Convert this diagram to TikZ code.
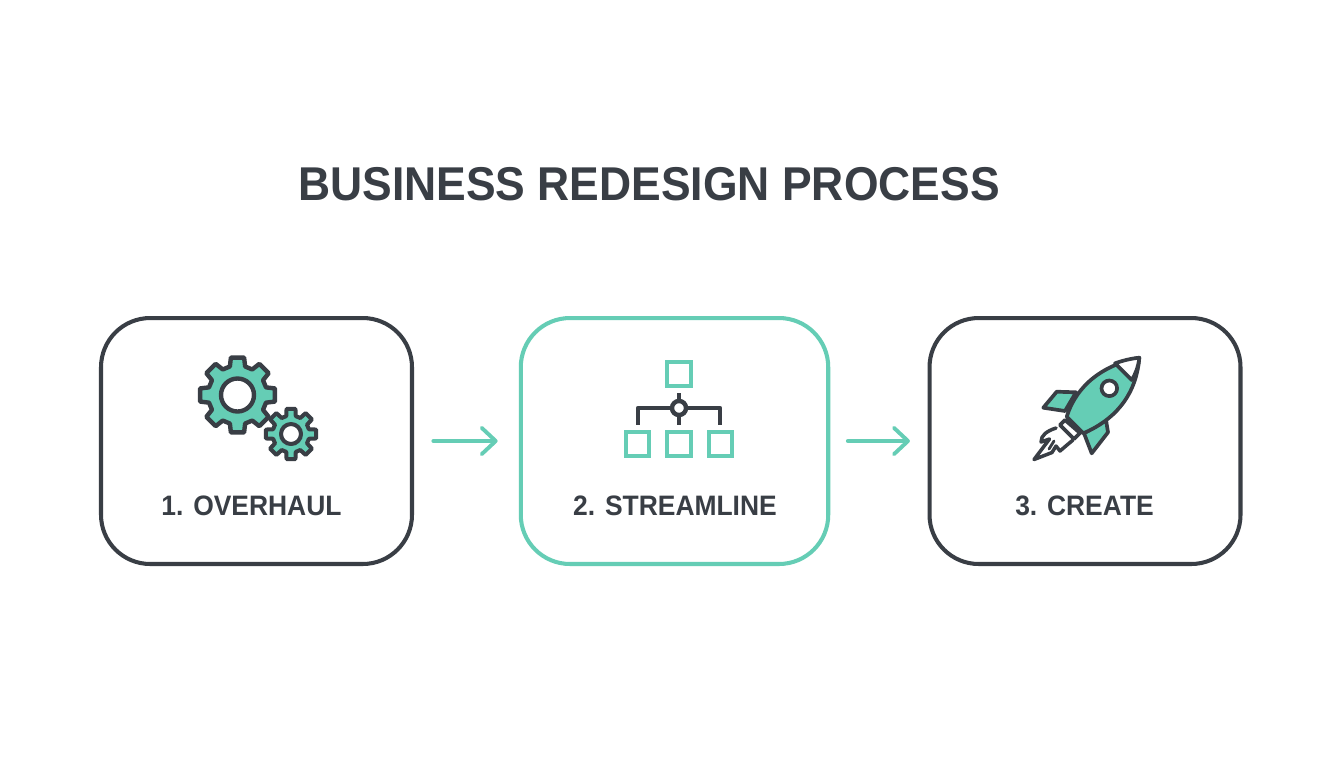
\documentclass[tikz,border=0pt]{standalone}
\usepackage{fontspec}
\setmainfont{Liberation Sans}
\newfontfamily\headfont[FakeStretch=0.937]{Liberation Sans}
\newfontfamily\labelfont[FakeStretch=0.94]{Liberation Sans}
\usetikzlibrary{arrows.meta}

\definecolor{slate}{HTML}{393E45}
\definecolor{mint}{HTML}{65CDB5}

\tikzset{
  stepbox/.style={draw=slate, line width=2.3pt, rounded corners=28pt, minimum width=177pt, minimum height=140pt, inner sep=0pt},
  steplabel/.style={text=slate, font=\labelfont\fontsize{16pt}{18pt}\selectfont\bfseries, inner sep=0pt},
  flow/.style={draw=mint, line width=2.2pt, line cap=round, -{Straight Barb[round, length=8pt, width=15pt, line width=2.2pt]}},
  iconline/.style={draw=slate, line width=2.1pt, line join=round, line cap=round},
  chartline/.style={draw=slate, line width=2.5pt, line join=round},
  iconbox/.style={draw=mint, line width=2.2pt, fill=white, minimum size=13.5pt, inner sep=0pt},
}

% one gear: centre, root radius, tip radius, hole radius, stroke
\newcommand{\gearicon}[5]{
  \begin{scope}[shift={(#1)}]
    \filldraw[iconline, line width=#5, fill=mint] (-10:#3)
      \foreach \a in {0,45,...,315} {
        -- (\a-10:#3) -- (\a+10:#3) -- (\a+15:#2) -- (\a+30:#2)
      } -- cycle;
    \filldraw[iconline, line width=#5, fill=white] (0,0) circle (#4);
  \end{scope}
}

\begin{document}
\begin{tikzpicture}[x=0.02cm, y=-0.02cm]

  \useasboundingbox[fill=white] (0,0) rectangle (1344,768);

  \node[text=slate, font=\headfont\fontsize{27pt}{30pt}\selectfont\bfseries, inner sep=0pt] (title) at (649,184) {BUSINESS REDESIGN PROCESS};

  \node[stepbox] (overhaul) at (256.5,441) {};
  \node[stepbox, draw=mint, minimum width=175pt] (streamline) at (674.5,441) {};
  \node[stepbox] (create) at (1085,441) {};

  \node[steplabel] (overhaullabel) at (251.5,506) {1. OVERHAUL};
  \node[steplabel] (streamlinelabel) at (675,506) {2. STREAMLINE};
  \node[steplabel] (createlabel) at (1084.5,506) {3. CREATE};

  \draw[flow, shorten <=11pt, shorten >=12pt] (overhaul.east) -- (streamline.west);
  \draw[flow, shorten <=10pt, shorten >=10pt] (streamline.east) -- (create.west);

  % gears
  \gearicon{237.5,395}{29.5}{38}{16.5}{2.5pt}
  \gearicon{291,434}{18.5}{25.5}{10}{2.3pt}

  % chart
  \node[iconbox] (top) at (679,374) {};
  \node[iconbox] (left) at (637.5,444) {};
  \node[iconbox] (mid) at (679,444) {};
  \node[iconbox] (right) at (720.5,444) {};
  \node[circle, draw=slate, line width=2.5pt, fill=white, minimum size=8pt, inner sep=0pt] (hub) at (679,408) {};
  \draw[chartline] (hub.west) -- (638,408) -- (638,425);
  \draw[chartline] (hub.east) -- (720,408) -- (720,425);
  \draw[chartline] (hub.north) -- (679,393);
  \draw[chartline] (hub.south) -- (679,425);

  % rocket
  \filldraw[iconline, fill=mint] (1043.3,407.7) -- (1056.7,391.7) -- (1076,392.3) -- (1065,411) -- cycle;
  \filldraw[iconline, fill=mint] (1084,433.3) -- (1106,420) -- (1108,432.3) -- (1091.7,453.3) -- cycle;
  \filldraw[iconline, fill=white] (1065,420) -- (1080,433) -- (1074,439) -- (1060,425) -- cycle;
  \filldraw[iconline, fill=mint] (1066.7,416.7) .. controls (1074,393) and (1094,367) .. (1139.3,357.7) .. controls (1136,398) and (1112,421) .. (1083.3,433.3) -- cycle;
  \filldraw[iconline, fill=white] (1115,363.3) .. controls (1123,360.5) and (1131,358.5) .. (1139.3,357.7) .. controls (1138.5,366) and (1136,373) .. (1131.7,380) -- cycle;
  \filldraw[iconline, fill=white] (1109.3,388.3) circle (7.8);
  \draw[iconline, line width=2pt] (1056,428) .. controls (1047,431) and (1041,435) .. (1041,442) -- (1049.5,439) -- (1034,459.5) -- (1052,452.5) -- (1056,446) -- (1060,451) -- (1067,445) -- (1073,440);
  \draw[iconline, line width=1.6pt] (1049,449) -- (1054,441);

\end{tikzpicture}
\end{document}
